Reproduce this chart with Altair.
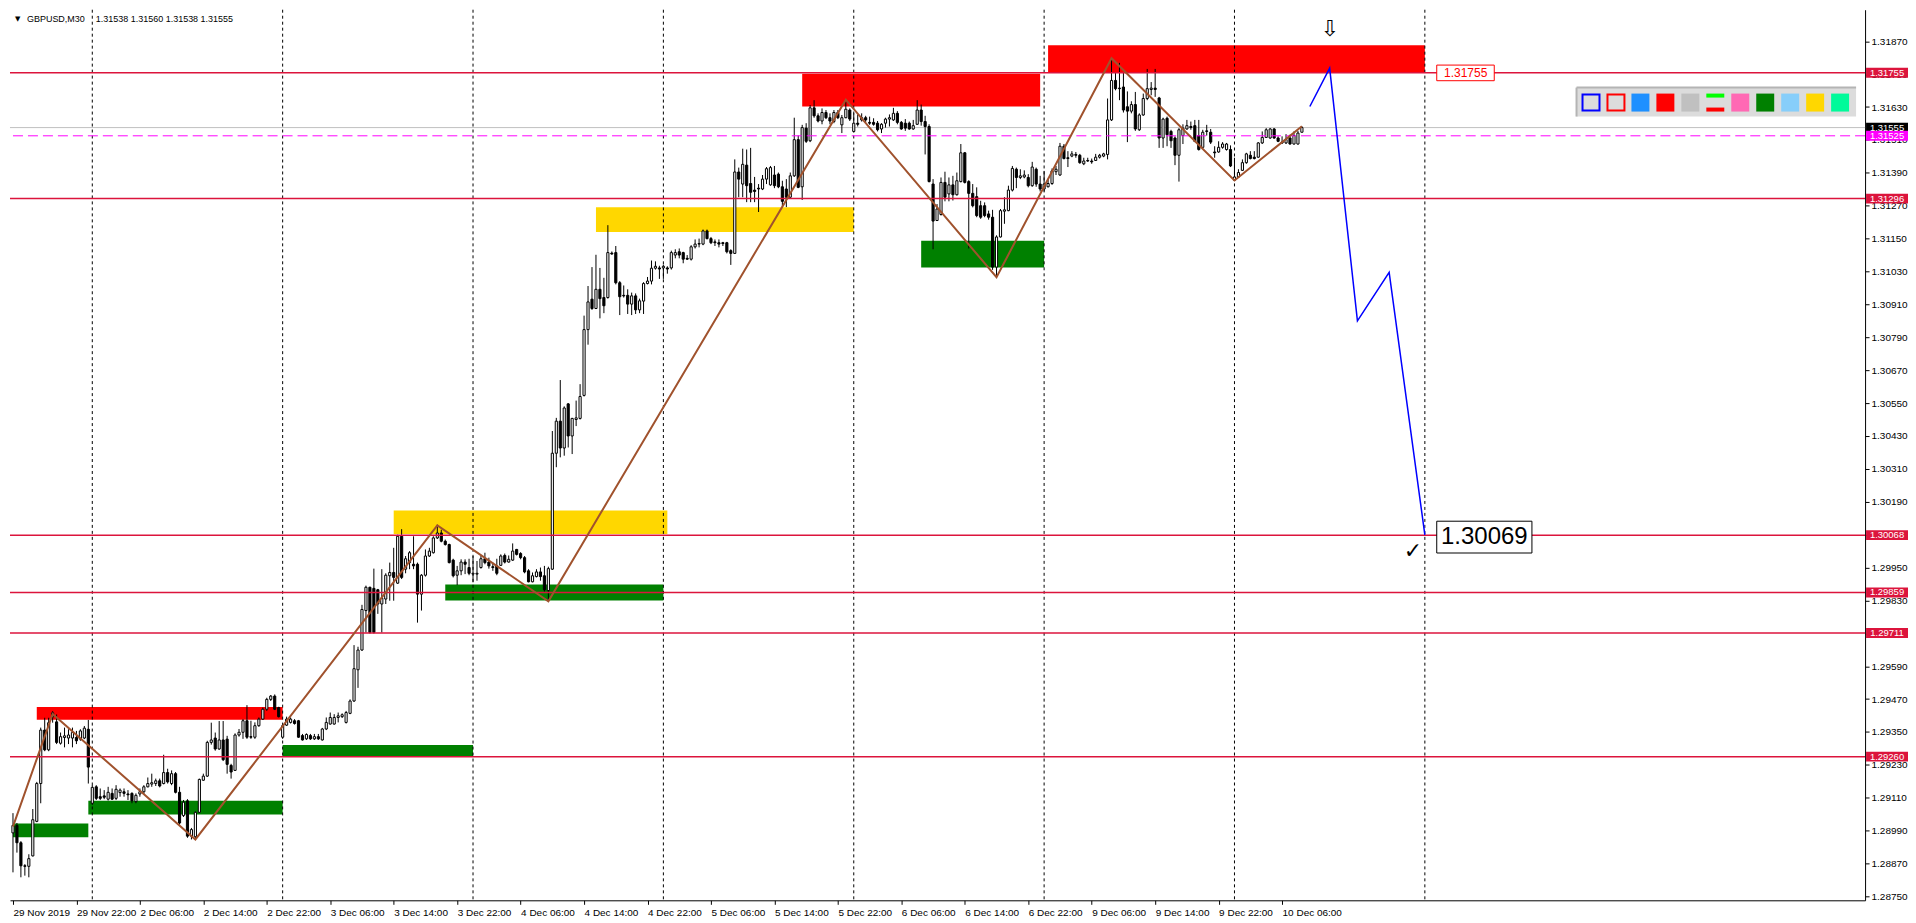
import json
import altair as alt
import pandas as pd

W, H = 1858, 892
FONT = "Liberation Sans"
X_DOMAIN = [-0.75, 467.0]
Y_DOMAIN = [1.28736, 1.31985]

# ---------------- candle data (GBPUSD M30, bar 0 = 29 Nov 2019 14:00) ----------------
opens = [
1.28982, 1.29009, 1.28946, 1.28862, 1.28860, 1.28898, 1.29024, 1.29162, 1.29357, 1.29285,
1.29405, 1.29387, 1.29309, 1.29330, 1.29328, 1.29328, 1.29330, 1.29324, 1.29328, 1.29360,
1.29090, 1.29150, 1.29114, 1.29117, 1.29105, 1.29126, 1.29108, 1.29129, 1.29132, 1.29124,
1.29126, 1.29096, 1.29124, 1.29132, 1.29150, 1.29160, 1.29162, 1.29172, 1.29162, 1.29202,
1.29162, 1.29198, 1.29130, 1.29045, 1.29099, 1.28970, 1.28968, 1.29057, 1.29174, 1.29189,
1.29312, 1.29328, 1.29288, 1.29321, 1.29324, 1.29228, 1.29210, 1.29339, 1.29349, 1.29391,
1.29333, 1.29331, 1.29373, 1.29397, 1.29433, 1.29469, 1.29481, 1.29439, 1.29331, 1.29375,
1.29385, 1.29391, 1.29391, 1.29337, 1.29325, 1.29337, 1.29325, 1.29333, 1.29321, 1.29361,
1.29379, 1.29379, 1.29403, 1.29406, 1.29385, 1.29418, 1.29463, 1.29577, 1.29649, 1.29793,
1.29878, 1.29874, 1.29869, 1.29817, 1.29835, 1.29920, 1.29932, 1.29893, 1.30064, 1.29944,
1.29968, 1.29962, 1.29962, 1.29853, 1.29922, 1.29992, 1.30004, 1.30058, 1.30076, 1.30046,
1.30034, 1.29977, 1.29922, 1.29938, 1.29970, 1.29950, 1.29926, 1.29926, 1.29950, 1.29982,
1.29970, 1.29953, 1.29956, 1.29958, 1.29994, 1.29970, 1.29977, 1.30016, 1.30001, 1.29986,
1.29938, 1.29898, 1.29917, 1.29934, 1.29920, 1.29866, 1.29944, 1.30367, 1.30484, 1.30386,
1.30547, 1.30430, 1.30490, 1.30494, 1.30578, 1.30818, 1.30929, 1.30895, 1.30965, 1.30935,
1.30935, 1.31097, 1.31099, 1.30989, 1.30943, 1.30943, 1.30911, 1.30941, 1.30890, 1.30922,
1.30986, 1.30995, 1.31042, 1.31043, 1.31043, 1.31043, 1.31043, 1.31090, 1.31102, 1.31099,
1.31078, 1.31075, 1.31120, 1.31130, 1.31130, 1.31178, 1.31150, 1.31138, 1.31135, 1.31135,
1.31135, 1.31106, 1.31096, 1.31393, 1.31349, 1.31418, 1.31351, 1.31327, 1.31334, 1.31331,
1.31367, 1.31346, 1.31382, 1.31385, 1.31339, 1.31331, 1.31301, 1.31379, 1.31511, 1.31339,
1.31553, 1.31507, 1.31627, 1.31598, 1.31579, 1.31610, 1.31591, 1.31577, 1.31610, 1.31565,
1.31591, 1.31619, 1.31541, 1.31571, 1.31583, 1.31591, 1.31574, 1.31574, 1.31571, 1.31550,
1.31571, 1.31586, 1.31583, 1.31607, 1.31574, 1.31571, 1.31571, 1.31550, 1.31567, 1.31619,
1.31577, 1.31559, 1.31349, 1.31216, 1.31238, 1.31355, 1.31313, 1.31346, 1.31310, 1.31358,
1.31463, 1.31358, 1.31315, 1.31303, 1.31270, 1.31270, 1.31240, 1.31228, 1.31046, 1.31156,
1.31250, 1.31252, 1.31327, 1.31403, 1.31373, 1.31375, 1.31373, 1.31343, 1.31403, 1.31349,
1.31331, 1.31339, 1.31351, 1.31394, 1.31382, 1.31487, 1.31445, 1.31451, 1.31457, 1.31454,
1.31423, 1.31435, 1.31433, 1.31435, 1.31447, 1.31451, 1.31457, 1.31583, 1.31727, 1.31699,
1.31703, 1.31631, 1.31615, 1.31639, 1.31547, 1.31601, 1.31661, 1.31694, 1.31699, 1.31663,
1.31517, 1.31589, 1.31541, 1.31517, 1.31454, 1.31526, 1.31550, 1.31559, 1.31562, 1.31526,
1.31483, 1.31543, 1.31538, 1.31466, 1.31466, 1.31483, 1.31475, 1.31475, 1.31363, 1.31375,
1.31399, 1.31427, 1.31454, 1.31447, 1.31447, 1.31499, 1.31519, 1.31517, 1.31550, 1.31517,
1.31502, 1.31499, 1.31517, 1.31495, 1.31495, 1.31538]

highs = [
1.29054, 1.29018, 1.28952, 1.28868, 1.28904, 1.29069, 1.29168, 1.29366, 1.29402, 1.29402,
1.29426, 1.29414, 1.29348, 1.29366, 1.29360, 1.29366, 1.29354, 1.29360, 1.29372, 1.29394,
1.29156, 1.29156, 1.29144, 1.29138, 1.29150, 1.29144, 1.29156, 1.29144, 1.29144, 1.29138,
1.29130, 1.29126, 1.29144, 1.29156, 1.29184, 1.29198, 1.29180, 1.29180, 1.29267, 1.29216,
1.29210, 1.29204, 1.29150, 1.29102, 1.29105, 1.29000, 1.29060, 1.29180, 1.29198, 1.29318,
1.29384, 1.29348, 1.29390, 1.29390, 1.29336, 1.29234, 1.29345, 1.29361, 1.29397, 1.29448,
1.29391, 1.29385, 1.29403, 1.29439, 1.29475, 1.29485, 1.29487, 1.29442, 1.29377, 1.29406,
1.29403, 1.29397, 1.29394, 1.29343, 1.29345, 1.29343, 1.29343, 1.29343, 1.29365, 1.29403,
1.29421, 1.29415, 1.29421, 1.29418, 1.29427, 1.29469, 1.29667, 1.29661, 1.29814, 1.29884,
1.29880, 1.29946, 1.29872, 1.29944, 1.29929, 1.29968, 1.30022, 1.30070, 1.30090, 1.29992,
1.30010, 1.30064, 1.29968, 1.29926, 1.30016, 1.30022, 1.30064, 1.30106, 1.30088, 1.30052,
1.30037, 1.29982, 1.29956, 1.29980, 1.29980, 1.29982, 1.29992, 1.29974, 1.29992, 1.30004,
1.29986, 1.29968, 1.29982, 1.29998, 1.30001, 1.29994, 1.30038, 1.30018, 1.30006, 1.29992,
1.29944, 1.29932, 1.29944, 1.29950, 1.29956, 1.29953, 1.30448, 1.30496, 1.30634, 1.30538,
1.30550, 1.30496, 1.30559, 1.30619, 1.30869, 1.30977, 1.31046, 1.31091, 1.31043, 1.31007,
1.31199, 1.31103, 1.31123, 1.30995, 1.30979, 1.30965, 1.30953, 1.30950, 1.30931, 1.30991,
1.31010, 1.31070, 1.31067, 1.31051, 1.31055, 1.31049, 1.31106, 1.31111, 1.31114, 1.31102,
1.31090, 1.31126, 1.31147, 1.31150, 1.31183, 1.31183, 1.31156, 1.31147, 1.31147, 1.31138,
1.31138, 1.31111, 1.31439, 1.31409, 1.31478, 1.31475, 1.31481, 1.31375, 1.31349, 1.31382,
1.31411, 1.31415, 1.31415, 1.31391, 1.31361, 1.31367, 1.31391, 1.31591, 1.31526, 1.31565,
1.31571, 1.31637, 1.31655, 1.31607, 1.31625, 1.31619, 1.31607, 1.31619, 1.31619, 1.31601,
1.31655, 1.31625, 1.31607, 1.31603, 1.31607, 1.31598, 1.31595, 1.31589, 1.31579, 1.31571,
1.31591, 1.31603, 1.31627, 1.31615, 1.31579, 1.31586, 1.31577, 1.31583, 1.31655, 1.31639,
1.31598, 1.31567, 1.31367, 1.31276, 1.31373, 1.31394, 1.31373, 1.31379, 1.31391, 1.31495,
1.31466, 1.31363, 1.31349, 1.31337, 1.31288, 1.31282, 1.31252, 1.31255, 1.31162, 1.31258,
1.31301, 1.31343, 1.31415, 1.31409, 1.31403, 1.31399, 1.31385, 1.31430, 1.31409, 1.31379,
1.31397, 1.31367, 1.31406, 1.31415, 1.31499, 1.31495, 1.31469, 1.31469, 1.31466, 1.31459,
1.31445, 1.31445, 1.31442, 1.31459, 1.31459, 1.31463, 1.31661, 1.31808, 1.31757, 1.31791,
1.31757, 1.31687, 1.31651, 1.31685, 1.31607, 1.31679, 1.31769, 1.31721, 1.31769, 1.31667,
1.31591, 1.31595, 1.31547, 1.31523, 1.31553, 1.31567, 1.31583, 1.31577, 1.31583, 1.31583,
1.31547, 1.31565, 1.31550, 1.31487, 1.31505, 1.31502, 1.31499, 1.31490, 1.31445, 1.31403,
1.31439, 1.31463, 1.31469, 1.31469, 1.31502, 1.31541, 1.31553, 1.31553, 1.31553, 1.31523,
1.31523, 1.31531, 1.31529, 1.31541, 1.31543, 1.31560]

lows = [
1.28838, 1.28910, 1.28820, 1.28826, 1.28820, 1.28896, 1.29021, 1.29090, 1.29280, 1.29280,
1.29384, 1.29306, 1.29304, 1.29294, 1.29306, 1.29294, 1.29306, 1.29318, 1.29324, 1.29162,
1.29084, 1.29102, 1.29102, 1.29105, 1.29100, 1.29102, 1.29102, 1.29114, 1.29114, 1.29102,
1.29090, 1.29090, 1.29114, 1.29124, 1.29148, 1.29150, 1.29153, 1.29148, 1.29159, 1.29162,
1.29156, 1.29126, 1.29012, 1.29040, 1.28964, 1.28958, 1.28958, 1.29054, 1.29172, 1.29186,
1.29304, 1.29282, 1.29285, 1.29244, 1.29198, 1.29180, 1.29208, 1.29333, 1.29325, 1.29325,
1.29325, 1.29325, 1.29369, 1.29394, 1.29427, 1.29463, 1.29430, 1.29403, 1.29325, 1.29372,
1.29381, 1.29377, 1.29329, 1.29319, 1.29321, 1.29321, 1.29321, 1.29321, 1.29319, 1.29357,
1.29377, 1.29377, 1.29385, 1.29401, 1.29381, 1.29415, 1.29460, 1.29511, 1.29646, 1.29713,
1.29709, 1.29709, 1.29781, 1.29713, 1.29817, 1.29829, 1.29829, 1.29890, 1.29908, 1.29929,
1.29944, 1.29944, 1.29749, 1.29793, 1.29917, 1.29989, 1.30001, 1.30054, 1.30042, 1.30030,
1.29965, 1.29914, 1.29886, 1.29922, 1.29926, 1.29922, 1.29896, 1.29902, 1.29946, 1.29962,
1.29946, 1.29938, 1.29922, 1.29956, 1.29965, 1.29968, 1.29974, 1.29994, 1.29980, 1.29929,
1.29896, 1.29896, 1.29914, 1.29902, 1.29862, 1.29826, 1.29941, 1.30316, 1.30352, 1.30358,
1.30388, 1.30364, 1.30466, 1.30490, 1.30574, 1.30763, 1.30890, 1.30893, 1.30859, 1.30878,
1.30931, 1.31091, 1.30983, 1.30871, 1.30935, 1.30875, 1.30871, 1.30875, 1.30878, 1.30875,
1.30983, 1.30983, 1.31037, 1.31003, 1.31003, 1.31022, 1.31037, 1.31078, 1.31078, 1.31060,
1.31072, 1.31070, 1.31114, 1.31118, 1.31126, 1.31147, 1.31130, 1.31123, 1.31118, 1.31123,
1.31096, 1.31054, 1.31094, 1.31301, 1.31301, 1.31283, 1.31283, 1.31283, 1.31247, 1.31327,
1.31349, 1.31343, 1.31334, 1.31334, 1.31267, 1.31265, 1.31295, 1.31375, 1.31334, 1.31291,
1.31499, 1.31502, 1.31591, 1.31574, 1.31567, 1.31586, 1.31567, 1.31571, 1.31586, 1.31535,
1.31589, 1.31579, 1.31538, 1.31559, 1.31577, 1.31574, 1.31565, 1.31562, 1.31541, 1.31535,
1.31555, 1.31559, 1.31579, 1.31567, 1.31547, 1.31543, 1.31547, 1.31547, 1.31565, 1.31562,
1.31457, 1.31355, 1.31111, 1.31214, 1.31234, 1.31286, 1.31286, 1.31289, 1.31307, 1.31355,
1.31351, 1.31114, 1.31264, 1.31228, 1.31222, 1.31228, 1.31219, 1.31036, 1.31010, 1.31154,
1.31204, 1.31250, 1.31322, 1.31334, 1.31367, 1.31370, 1.31337, 1.31339, 1.31339, 1.31322,
1.31322, 1.31337, 1.31346, 1.31382, 1.31379, 1.31439, 1.31411, 1.31447, 1.31445, 1.31423,
1.31418, 1.31430, 1.31423, 1.31433, 1.31442, 1.31447, 1.31439, 1.31579, 1.31691, 1.31655,
1.31610, 1.31502, 1.31607, 1.31543, 1.31543, 1.31598, 1.31655, 1.31673, 1.31667, 1.31481,
1.31481, 1.31487, 1.31481, 1.31418, 1.31358, 1.31495, 1.31547, 1.31547, 1.31502, 1.31471,
1.31481, 1.31526, 1.31495, 1.31445, 1.31463, 1.31478, 1.31471, 1.31411, 1.31361, 1.31373,
1.31397, 1.31423, 1.31439, 1.31439, 1.31445, 1.31495, 1.31517, 1.31514, 1.31514, 1.31502,
1.31495, 1.31495, 1.31493, 1.31493, 1.31493, 1.31538]

closes = [
1.29009, 1.28946, 1.28862, 1.28860, 1.28888, 1.29030, 1.29162, 1.29357, 1.29285, 1.29384,
1.29420, 1.29312, 1.29333, 1.29336, 1.29339, 1.29348, 1.29318, 1.29354, 1.29364, 1.29222,
1.29148, 1.29108, 1.29108, 1.29112, 1.29130, 1.29105, 1.29141, 1.29138, 1.29126, 1.29121,
1.29099, 1.29119, 1.29132, 1.29150, 1.29162, 1.29165, 1.29172, 1.29153, 1.29202, 1.29168,
1.29198, 1.29130, 1.29018, 1.29094, 1.28970, 1.28994, 1.29057, 1.29177, 1.29189, 1.29312,
1.29321, 1.29288, 1.29321, 1.29249, 1.29232, 1.29204, 1.29339, 1.29349, 1.29391, 1.29331,
1.29331, 1.29373, 1.29397, 1.29433, 1.29469, 1.29481, 1.29433, 1.29406, 1.29373, 1.29397,
1.29397, 1.29381, 1.29331, 1.29321, 1.29341, 1.29325, 1.29333, 1.29325, 1.29361, 1.29385,
1.29403, 1.29403, 1.29409, 1.29413, 1.29421, 1.29463, 1.29581, 1.29649, 1.29797, 1.29878,
1.29713, 1.29713, 1.29817, 1.29838, 1.29922, 1.29932, 1.29914, 1.30064, 1.29914, 1.29982,
1.30004, 1.29956, 1.29853, 1.29922, 1.29992, 1.30010, 1.30058, 1.30076, 1.30046, 1.30034,
1.29968, 1.29920, 1.29938, 1.29970, 1.29962, 1.29929, 1.29929, 1.29929, 1.29982, 1.29968,
1.29956, 1.29950, 1.29929, 1.29992, 1.29970, 1.29980, 1.30010, 1.29998, 1.29986, 1.29934,
1.29898, 1.29920, 1.29934, 1.29917, 1.29869, 1.29946, 1.30367, 1.30484, 1.30386, 1.30532,
1.30430, 1.30494, 1.30496, 1.30574, 1.30818, 1.30919, 1.30895, 1.30965, 1.30931, 1.30905,
1.31099, 1.31094, 1.30989, 1.30938, 1.30941, 1.30911, 1.30941, 1.30890, 1.30923, 1.30986,
1.30995, 1.31042, 1.31049, 1.31039, 1.31049, 1.31039, 1.31099, 1.31099, 1.31090, 1.31075,
1.31075, 1.31120, 1.31130, 1.31132, 1.31178, 1.31150, 1.31135, 1.31135, 1.31130, 1.31132,
1.31102, 1.31096, 1.31393, 1.31367, 1.31421, 1.31343, 1.31319, 1.31322, 1.31331, 1.31367,
1.31405, 1.31409, 1.31343, 1.31339, 1.31286, 1.31301, 1.31379, 1.31511, 1.31337, 1.31555,
1.31505, 1.31627, 1.31598, 1.31579, 1.31610, 1.31591, 1.31579, 1.31610, 1.31591, 1.31591,
1.31622, 1.31586, 1.31571, 1.31567, 1.31591, 1.31583, 1.31571, 1.31567, 1.31547, 1.31567,
1.31586, 1.31591, 1.31607, 1.31574, 1.31550, 1.31553, 1.31550, 1.31562, 1.31619, 1.31577,
1.31559, 1.31358, 1.31214, 1.31258, 1.31355, 1.31301, 1.31346, 1.31310, 1.31361, 1.31463,
1.31355, 1.31315, 1.31270, 1.31234, 1.31228, 1.31234, 1.31228, 1.31046, 1.31156, 1.31252,
1.31255, 1.31327, 1.31406, 1.31373, 1.31379, 1.31382, 1.31343, 1.31411, 1.31349, 1.31331,
1.31349, 1.31351, 1.31397, 1.31403, 1.31487, 1.31442, 1.31442, 1.31459, 1.31454, 1.31427,
1.31433, 1.31433, 1.31430, 1.31447, 1.31454, 1.31459, 1.31583, 1.31727, 1.31697, 1.31697,
1.31619, 1.31615, 1.31639, 1.31550, 1.31601, 1.31661, 1.31697, 1.31699, 1.31694, 1.31517,
1.31586, 1.31529, 1.31507, 1.31454, 1.31547, 1.31553, 1.31562, 1.31555, 1.31505, 1.31475,
1.31538, 1.31541, 1.31502, 1.31463, 1.31483, 1.31495, 1.31495, 1.31415, 1.31375, 1.31391,
1.31427, 1.31459, 1.31442, 1.31442, 1.31499, 1.31519, 1.31547, 1.31550, 1.31517, 1.31505,
1.31499, 1.31511, 1.31495, 1.31526, 1.31535, 1.31555]

# ---------------- axis labels ----------------
x_tick_labels = ["29 Nov 2019", "29 Nov 22:00", "2 Dec 06:00", "2 Dec 14:00", "2 Dec 22:00",
                 "3 Dec 06:00", "3 Dec 14:00", "3 Dec 22:00", "4 Dec 06:00", "4 Dec 14:00",
                 "4 Dec 22:00", "5 Dec 06:00", "5 Dec 14:00", "5 Dec 22:00", "6 Dec 06:00",
                 "6 Dec 14:00", "6 Dec 22:00", "9 Dec 06:00", "9 Dec 14:00", "9 Dec 22:00",
                 "10 Dec 06:00"]
x_tick_bars = [0, 16, 32, 48, 64, 80, 96, 112, 128, 144, 160, 176, 192, 208, 224, 240,
               256, 272, 288, 304, 320]
y_tick_values = [1.28750, 1.28870, 1.28990, 1.29110, 1.29230, 1.29350, 1.29470, 1.29590,
                 1.29710, 1.29830, 1.29950, 1.30070, 1.30190, 1.30310, 1.30430, 1.30550,
                 1.30670, 1.30790, 1.30910, 1.31030, 1.31150, 1.31270, 1.31390, 1.31510,
                 1.31630, 1.31750, 1.31870]

# day separators (bar index of 00:00 each day)
separator_bars = [20, 68, 116, 164, 212, 260, 308, 356]

# horizontal levels
level_prices = [1.31755, 1.31296, 1.30068, 1.29859, 1.29711, 1.29260]
bid_price = 1.31555
dashed_price = 1.31525

# supply / demand zones
zone_start = [6, 0, 19, 68, 96, 109, 147, 199, 229, 261]
zone_end = [68, 19, 68, 116, 165, 164, 212, 259, 260, 356]
zone_top = [1.29441, 1.29016, 1.29099, 1.29303, 1.30158, 1.29888, 1.31264, 1.31751, 1.31142, 1.31855]
zone_bottom = [1.29395, 1.28966, 1.29049, 1.29260, 1.30072, 1.29830, 1.31174, 1.31632, 1.31045, 1.31758]
zone_colors = ["#FF0000", "#008000", "#008000", "#008000", "#FFD700", "#008000", "#FFD700",
               "#FF0000", "#008000", "#FF0000"]

# zigzag
zz_bars = [0, 10, 46, 107, 135, 210, 248, 277, 308, 325]
zz_prices = [1.29005, 1.29416, 1.28958, 1.30104, 1.29827, 1.31657, 1.31009, 1.31808, 1.31362, 1.31560]

# projected path
proj_bars = [327, 332, 339, 347, 356]
proj_prices = [1.31632, 1.31772, 1.30850, 1.31027, 1.30069]

target_text = "1.30069"
level_note = "1.31755"
header_symbol = "GBPUSD,M30"
header_values = "1.31538 1.31560 1.31538 1.31555"

toolbar_colors = ["#0000FF", "#FF0000", "#1E90FF", "#FF0000", "#C0C0C0", "split",
                  "#FF69B4", "#008000", "#87CEFA", "#FFD700", "#00FA9A"]

# ---------------- scales & axes ----------------
xs = alt.Scale(domain=X_DOMAIN, nice=False, zero=False)
ys = alt.Scale(domain=Y_DOMAIN, nice=False, zero=False)
x_axis = alt.Axis(values=x_tick_bars,
                  labelExpr=json.dumps(x_tick_labels) + "[round(datum.value / 16)]",
                  labelAlign="left", labelBaseline="top", labelPadding=3, tickSize=4,
                  labelFont=FONT, labelFontSize=10, labelColor="black",
                  domainColor="black", tickColor="black", labelOverlap=False,
                  labelFlush=False, grid=False, title=None)
y_axis = alt.Axis(orient="right", values=y_tick_values, format=".5f", tickSize=4,
                  labelPadding=2, labelFont=FONT, labelFontSize=10, labelColor="black",
                  domainColor="black", tickColor="black", labelOverlap=False,
                  labelFlush=False, grid=False, title=None)


def X(f):
    return alt.X(f"{f}:Q", scale=xs, axis=x_axis, title=None)


def Y(f):
    return alt.Y(f"{f}:Q", scale=ys, axis=y_axis, title=None)


n = min(len(opens), len(highs), len(lows), len(closes))
cdf = pd.DataFrame({"bar": list(range(n)), "open": opens[:n], "high": highs[:n],
                    "low": lows[:n], "close": closes[:n]})

layers = []

zdf = pd.DataFrame({"x1": zone_start, "x2": zone_end, "top": zone_top,
                    "bot": zone_bottom, "color": zone_colors})
layers.append(alt.Chart(zdf).mark_rect().encode(
    x=X("x1"), x2="x2", y=Y("top"), y2="bot", color=alt.Color("color:N", scale=None)))

layers.append(alt.Chart(pd.DataFrame({"bar": separator_bars})).mark_rule(
    color="black", strokeDash=[3, 3], strokeWidth=1).encode(x=X("bar")))

layers.append(alt.Chart(pd.DataFrame({"p": [bid_price]})).mark_rule(
    color="#C0C0C0", strokeWidth=1).encode(y=Y("p")))

base = alt.Chart(cdf)
layers.append(base.mark_rule(color="black", strokeWidth=1).encode(
    x=X("bar"), y=Y("low"), y2="high"))
layers.append(base.transform_calculate(xa="datum.bar - 0.27", xb="datum.bar + 0.27").mark_rect(
    stroke="black", strokeWidth=1).encode(
    x=X("xa"), x2="xb", y=Y("open"), y2="close",
    fill=alt.condition("datum.close >= datum.open", alt.value("white"), alt.value("black"))))

layers.append(alt.Chart(pd.DataFrame({"p": [dashed_price]})).mark_rule(
    color="#FF00FF", strokeDash=[10, 5], strokeWidth=1).encode(y=Y("p")))
layers.append(alt.Chart(pd.DataFrame({"p": level_prices})).mark_rule(
    color="#DC143C", strokeWidth=1.5).encode(y=Y("p")))

layers.append(alt.Chart(pd.DataFrame({"i": list(range(len(zz_bars))), "bar": zz_bars,
                                      "p": zz_prices})).mark_line(
    color="#A0522D", strokeWidth=2).encode(x=X("bar"), y=Y("p"), order="i:Q"))
layers.append(alt.Chart(pd.DataFrame({"i": list(range(len(proj_bars))), "bar": proj_bars,
                                      "p": proj_prices})).mark_line(
    color="#0000FF", strokeWidth=1.5).encode(x=X("bar"), y=Y("p"), order="i:Q"))

# price boxes on the right axis
box_prices = level_prices + [bid_price, dashed_price]
box_colors = ["#DC143C"] * len(level_prices) + ["#000000", "#FF00FF"]
bdf = pd.DataFrame({"p": box_prices, "label": [f"{v:.5f}" for v in box_prices],
                    "color": box_colors})
layers.append(alt.Chart(bdf).transform_calculate(
    top="datum.p + 0.00018", bot="datum.p - 0.00018").mark_rect().encode(
    x=alt.value(W + 1), x2=alt.value(W + 43), y=Y("top"), y2="bot",
    color=alt.Color("color:N", scale=None)))
layers.append(alt.Chart(bdf).mark_text(color="white", font=FONT, fontSize=9.5,
                                       align="center", baseline="middle").encode(
    x=alt.value(W + 22), y=Y("p"), text="label:N"))

# annotations
ann = pd.DataFrame({"x1": [359], "x2": [383], "top": [1.30119], "bot": [1.30003]})
layers.append(alt.Chart(ann).mark_rect(fill="white", stroke="black", strokeWidth=1).encode(
    x=X("x1"), x2="x2", y=Y("top"), y2="bot"))
layers.append(alt.Chart(pd.DataFrame({"bar": [371], "p": [1.30061], "t": [target_text]})).mark_text(
    font=FONT, fontSize=24, color="black", align="center", baseline="middle").encode(
    x=X("bar"), y=Y("p"), text="t:N"))
ann2 = pd.DataFrame({"x1": [359], "x2": [373.5], "top": [1.31783], "bot": [1.31726]})
layers.append(alt.Chart(ann2).mark_rect(fill="white", stroke="#FF0000", strokeWidth=1).encode(
    x=X("x1"), x2="x2", y=Y("top"), y2="bot"))
layers.append(alt.Chart(pd.DataFrame({"bar": [366.3], "p": [1.31755], "t": [level_note]})).mark_text(
    font=FONT, fontSize=12, color="#FF0000", align="center", baseline="middle").encode(
    x=X("bar"), y=Y("p"), text="t:N"))
layers.append(alt.Chart(pd.DataFrame({"bar": [353], "p": [1.30011], "t": ["✓"]})).mark_text(
    font="DejaVu Sans", fontSize=22, color="black", align="center", baseline="middle").encode(
    x=X("bar"), y=Y("p"), text="t:N"))
layers.append(alt.Chart(pd.DataFrame({"bar": [332], "p": [1.31913], "t": ["⇩"]})).mark_text(
    font="DejaVu Sans", fontSize=22, color="black", align="center", baseline="middle").encode(
    x=X("bar"), y=Y("p"), text="t:N"))

# toolbar
one = pd.DataFrame({"k": [0]})
tb_x0 = W - 289
layers.append(alt.Chart(one).mark_rect(fill="#DCDCDC").encode(
    x=alt.value(tb_x0), x2=alt.value(tb_x0 + 280), y=alt.value(78), y2=alt.value(107)))
layers.append(alt.Chart(one).mark_rule(color="#B4B4B4", strokeWidth=2).encode(
    x=alt.value(tb_x0), x2=alt.value(tb_x0 + 280), y=alt.value(78)))
layers.append(alt.Chart(one).mark_rule(color="#B4B4B4", strokeWidth=2).encode(
    x=alt.value(tb_x0), y=alt.value(78), y2=alt.value(107)))
for i, c in enumerate(toolbar_colors):
    xa = tb_x0 + 5 + 25 * i
    if i < 2:
        layers.append(alt.Chart(one).mark_rect(fill="#DCDCDC", stroke=c, strokeWidth=2).encode(
            x=alt.value(xa + 1), x2=alt.value(xa + 18), y=alt.value(85), y2=alt.value(101)))
    elif c == "split":
        layers.append(alt.Chart(one).mark_rect(fill="#00FF00").encode(
            x=alt.value(xa), x2=alt.value(xa + 18), y=alt.value(84), y2=alt.value(88)))
        layers.append(alt.Chart(one).mark_rect(fill="#FF0000").encode(
            x=alt.value(xa), x2=alt.value(xa + 18), y=alt.value(98), y2=alt.value(102)))
    else:
        layers.append(alt.Chart(one).mark_rect(fill=c).encode(
            x=alt.value(xa), x2=alt.value(xa + 18), y=alt.value(84), y2=alt.value(102)))

# header
layers.append(alt.Chart(one).mark_text(text="▼", font="DejaVu Sans", fontSize=7, color="black",
                                       align="left", baseline="middle").encode(
    x=alt.value(5), y=alt.value(9)))
layers.append(alt.Chart(one).mark_text(text=header_symbol, font=FONT, fontSize=9, color="black",
                                       align="left", baseline="middle").encode(
    x=alt.value(17), y=alt.value(9)))
layers.append(alt.Chart(one).mark_text(text=header_values, font=FONT, fontSize=9, color="black",
                                       align="left", baseline="middle").encode(
    x=alt.value(86), y=alt.value(9)))

chart = alt.layer(*layers).properties(width=W, height=H, padding=0).configure(
    background="white").configure_view(stroke=None)

chart.save("out.html", embed_options={"renderer": "svg", "actions": False})
